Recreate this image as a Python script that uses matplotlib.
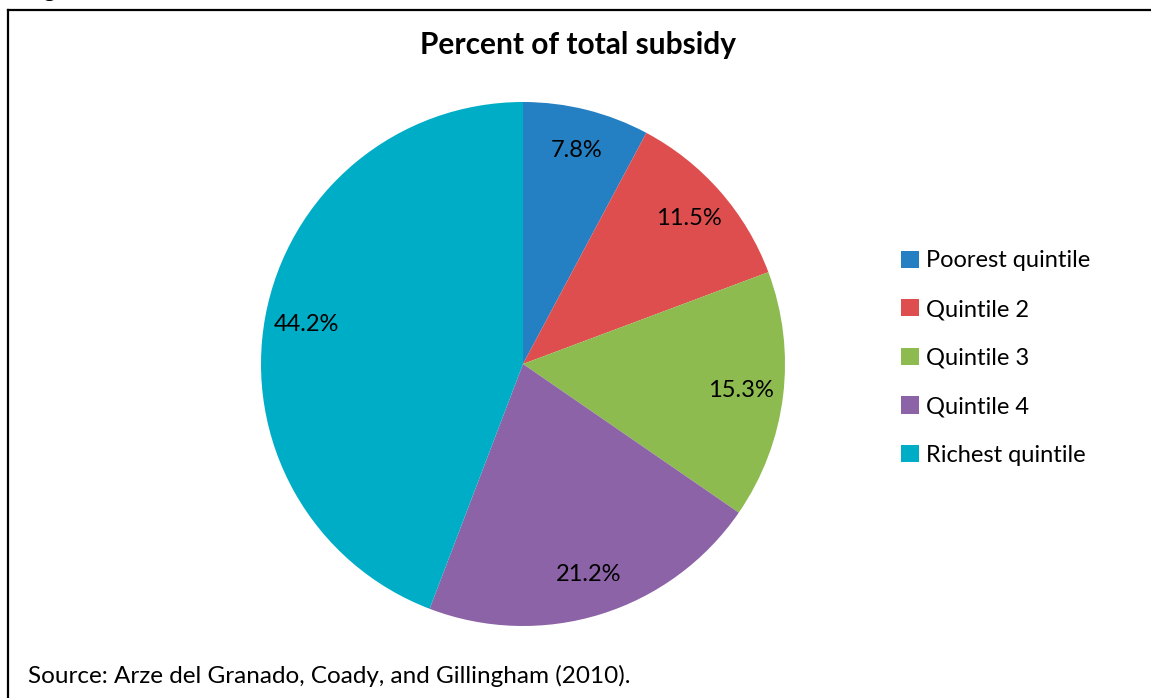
import matplotlib.pyplot as plt
from matplotlib.lines import Line2D

plt.rcParams['font.family'] = ['Lato', 'DejaVu Sans']

# shares of total subsidy by income quintile
groups = ["Poorest quintile", "Quintile 2", "Quintile 3", "Quintile 4", "Richest quintile"]
shares = [7.8, 11.5, 15.3, 21.2, 44.2]
colors = ["#2480C2", "#DE4E4E", "#8DBB50", "#8B63A6", "#00ADC6"]

title = "Percent of total subsidy"
caption = "Figure 4. Benefit Incidence of Total Fuel Subsidies across Household Income Quintiles"
source = "Source: Arze del Granado, Coady, and Gillingham (2010)."

W, H = 1151, 698
fig = plt.figure(figsize=(W / 100, H / 100), dpi=100)
ax = fig.add_axes([0, 0, 1, 1])

wedges, texts, autotexts = ax.pie(
    shares, colors=colors, startangle=90, counterclock=False,
    center=(523, H - 364), radius=262, frame=True,
    autopct="%.1f%%", pctdistance=0.84,
    textprops={"fontsize": 17, "color": "black"},
)
ax.set_xlim(0, W)
ax.set_ylim(0, H)
ax.set_aspect("equal")
ax.axis("off")

ax.legend(wedges, groups, loc="upper left", bbox_to_anchor=(892 / W, 1 - 241 / H),
          frameon=False, fontsize=17, handlelength=0.75, handleheight=0.75,
          handletextpad=0.3, labelspacing=1.17, borderaxespad=0)

fig.text(578 / W, 1 - 45 / H, title, ha="center", va="center",
         fontsize=21.5, fontweight="bold")
fig.text(28 / W, 1 - 676 / H, source, ha="left", va="center", fontsize=17.5)

# caption line above the box, mostly off the top edge
fig.text(26 / W, 1 + 4 / H, caption, ha="left", va="baseline",
         fontsize=15, fontweight="bold", family="Liberation Serif")

# box frame
fig.add_artist(Line2D([8 / W, 8 / W], [0, 1 - 10 / H], color="black", lw=1.6))
fig.add_artist(Line2D([8 / W, 1], [1 - 10 / H, 1 - 10 / H], color="black", lw=1.6))

fig.savefig("out.png", dpi=100)
